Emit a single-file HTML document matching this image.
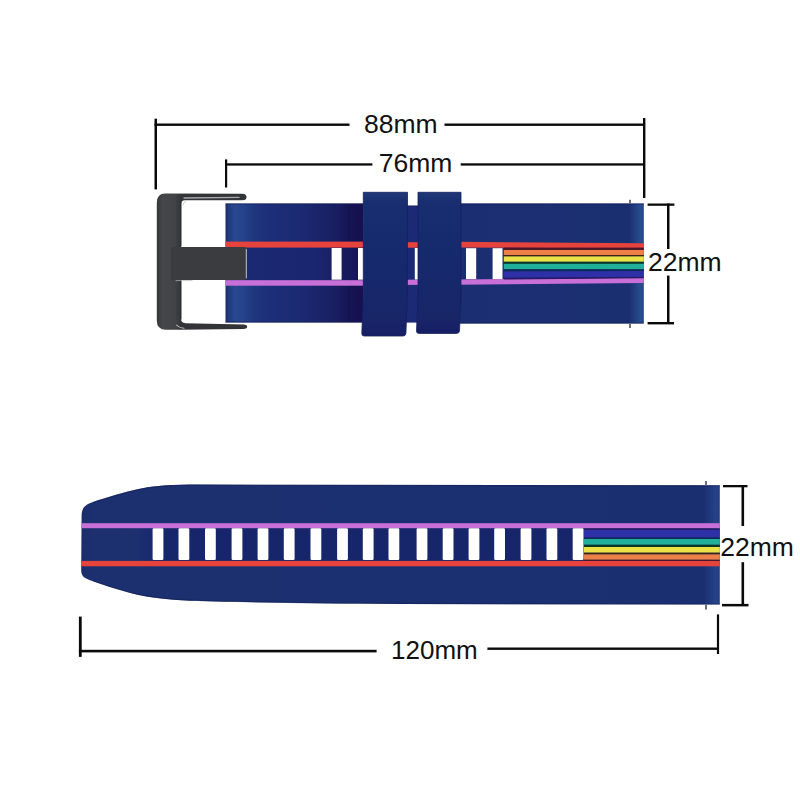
<!DOCTYPE html>
<html><head><meta charset="utf-8">
<style>
html,body{margin:0;padding:0;background:#fff;width:800px;height:800px;overflow:hidden}
svg{display:block}
text{font-family:"Liberation Sans",sans-serif;font-size:26.5px;fill:#111}
</style></head><body>
<svg width="800" height="800" viewBox="0 0 800 800">
<defs>
<linearGradient id="gL" gradientUnits="userSpaceOnUse" x1="225.5" x2="363" y1="0" y2="0">
  <stop offset="0" stop-color="#1a2a6c"/>
  <stop offset="0.025" stop-color="#223d80"/>
  <stop offset="0.07" stop-color="#28488f"/>
  <stop offset="0.13" stop-color="#25428a"/>
  <stop offset="0.21" stop-color="#1f367e"/>
  <stop offset="0.3" stop-color="#1c2f78"/>
  <stop offset="0.55" stop-color="#1b2a72"/>
  <stop offset="0.8" stop-color="#191e62"/>
  <stop offset="0.9" stop-color="#151453"/>
  <stop offset="1" stop-color="#170f50"/>
</linearGradient>
<linearGradient id="gIn" gradientUnits="userSpaceOnUse" x1="246" x2="363" y1="0" y2="0">
  <stop offset="0" stop-color="#1b2872"/>
  <stop offset="0.6" stop-color="#1b2670"/>
  <stop offset="1" stop-color="#171352"/>
</linearGradient>
<linearGradient id="gR" gradientUnits="userSpaceOnUse" x1="461" x2="643.8" y1="0" y2="0">
  <stop offset="0" stop-color="#1b2e72"/>
  <stop offset="0.92" stop-color="#1a2f70"/>
  <stop offset="0.985" stop-color="#2a4e92"/>
  <stop offset="1" stop-color="#24427f"/>
</linearGradient>
<linearGradient id="gB" gradientUnits="userSpaceOnUse" x1="80" x2="719.8" y1="0" y2="0">
  <stop offset="0" stop-color="#1a2c6c"/>
  <stop offset="0.02" stop-color="#1c3070"/>
  <stop offset="0.975" stop-color="#1a2f70"/>
  <stop offset="0.994" stop-color="#25438a"/>
  <stop offset="1" stop-color="#213c7a"/>
</linearGradient>
<linearGradient id="gBk" gradientUnits="userSpaceOnUse" x1="156.8" x2="181" y1="0" y2="0">
  <stop offset="0" stop-color="#35373a"/>
  <stop offset="0.25" stop-color="#45474a"/>
  <stop offset="0.75" stop-color="#414346"/>
  <stop offset="1" stop-color="#323437"/>
</linearGradient>
<linearGradient id="gLoop" x1="0" x2="0" y1="0" y2="1">
  <stop offset="0" stop-color="#203878"/>
  <stop offset="0.07" stop-color="#182e70"/>
  <stop offset="0.5" stop-color="#15296c"/>
  <stop offset="0.88" stop-color="#182668"/>
  <stop offset="1" stop-color="#171e64"/>
</linearGradient>
<linearGradient id="gInB" gradientUnits="userSpaceOnUse" x1="140" x2="584" y1="0" y2="0">
  <stop offset="0" stop-color="#1a2e70"/>
  <stop offset="0.05" stop-color="#17266a"/>
  <stop offset="1" stop-color="#17266a"/>
</linearGradient>
</defs>

<!-- ===== dimension lines ===== -->
<g fill="#0a0a0a">
  <rect x="154.5" y="118.7" width="2.5" height="70.7"/>
  <rect x="643" y="118" width="2.4" height="80"/>
  <rect x="154.5" y="123.5" width="195" height="2.4"/>
  <rect x="444.5" y="123.5" width="200" height="2.4"/>
  <rect x="225" y="159.4" width="2.2" height="28.1"/>
  <rect x="225" y="163.3" width="147.4" height="2.3"/>
  <rect x="460.7" y="163.3" width="184" height="2.3"/>
  <rect x="647.6" y="203.5" width="26.8" height="2.3"/>
  <rect x="667" y="203.5" width="2.5" height="45.5"/>
  <rect x="667" y="275.6" width="2.5" height="48"/>
  <rect x="647.6" y="322" width="26.4" height="2.4"/>
  <rect x="723" y="485" width="24.5" height="2.3"/>
  <rect x="741.5" y="485" width="2.6" height="41"/>
  <rect x="741.5" y="562.2" width="2.6" height="43"/>
  <rect x="722" y="603.9" width="26.5" height="2.5"/>
  <rect x="78.9" y="616.6" width="2.8" height="40.3"/>
  <rect x="716.9" y="614.4" width="2.2" height="39.6"/>
  <rect x="78.9" y="649.8" width="297.7" height="2.6"/>
  <rect x="487.4" y="647.5" width="231" height="2.4"/>
</g>
<text x="364" y="133.3">88mm</text>
<text x="378.8" y="171.8">76mm</text>
<text x="648" y="270.7">22mm</text>
<text x="720.3" y="556.2">22mm</text>
<text x="391" y="659.1" style="font-size:26px">120mm</text>

<!-- ===== top strap ===== -->
<rect x="225.5" y="203.5" width="138" height="119" fill="url(#gL)"/>
<rect x="240" y="247" width="123.5" height="33" fill="url(#gIn)"/>
<rect x="400" y="205.6" width="25" height="117" fill="#1c2a76"/>
<rect x="455" y="203.5" width="188.8" height="120" fill="url(#gR)"/>
<g fill="#141e52" opacity="0.55">
<rect x="225.5" y="203.4" width="138" height="1.2"/>
<rect x="225.5" y="321.4" width="138" height="1.2"/>
<rect x="455" y="203.4" width="188.8" height="1.2"/>
<rect x="455" y="322.4" width="188.8" height="1.2"/>
<rect x="407" y="205.6" width="12" height="1.1"/>
</g>
<g fill="#e6433c">
<rect x="225.5" y="241.6" width="138" height="6"/>
<rect x="400" y="242.2" width="25" height="5.5"/>
<path d="M455,241.8 L643.8,243.3 L643.8,248.6 L455,247.5 Z"/>
</g>
<g fill="#c86fd8">
<rect x="225.5" y="280.2" width="138" height="5.5"/>
<rect x="400" y="279.7" width="25" height="5.2"/>
<path d="M455,279.6 L643.8,277.8 L643.8,282.9 L455,284.8 Z"/>
</g>
<rect x="503.8" y="247.6" width="140" height="2.6" fill="#4a1628"/>
<rect x="503.8" y="254.9" width="140" height="1.7" fill="#3a2416"/>
<rect x="503.8" y="261.5" width="140" height="2.4" fill="#0a3624"/>
<rect x="503.8" y="269" width="140" height="2.5" fill="#0c2a58"/>
<path d="M503.8,277.5 L643.8,276.6 L643.8,278.2 L503.8,279.6 Z" fill="#281a68"/>
<rect x="503.8" y="250" width="140" height="5" fill="#ec8047"/>
<rect x="503.8" y="256.4" width="140" height="5.2" fill="#ebe346"/>
<rect x="503.8" y="263.8" width="140" height="5.3" fill="#20b09a"/>
<path d="M503.8,271.4 L643.8,271 L643.8,276.8 L503.8,277.6 Z" fill="#2e30a8"/>
<g fill="#fff">
  <rect x="331.6" y="248" width="10" height="31.7"/>
  <rect x="358" y="248" width="10" height="31.7"/>
  <rect x="414.8" y="248" width="10" height="31.5"/>
  <rect x="466" y="248.2" width="10.2" height="30.9"/>
  <rect x="492.6" y="248.2" width="9.9" height="30.9"/>
</g>
<!-- loops -->
<path d="M363.3,192.3 L407.5,192.3 L407.4,295 L405.9,333.5 Q405.6,336 403,336 L364.2,336 Q361.7,336 361.8,333.5 L363.3,295 Z" fill="url(#gLoop)" stroke="#14205e" stroke-width="0.8"/>
<path d="M418,192.3 L461,192.3 L461,295 L459.5,331 Q459.2,333.4 456.5,333.4 L419,333.4 Q416.3,333.4 416.5,331 L418,295 Z" fill="url(#gLoop)" stroke="#14205e" stroke-width="0.8"/>
<rect x="629" y="199.8" width="2" height="3.5" fill="#6a7080"/>
<rect x="629" y="323.5" width="2" height="4.5" fill="#6a7080"/>

<!-- ===== buckle ===== -->
<path d="M165,193.5 L242.5,193.8 Q246.5,194 246.5,197 Q246.5,200.3 242.5,200.3 L185,200.3 Q181,200.3 181,204.5 L181,246.9 L181,279.9 L181,318.5 Q181,323 185.5,323.2 L243.5,324.6 Q247.2,324.9 247.2,326.8 Q247.2,328.9 243.5,328.9 L180,329.8 L166,329.8 Q156.8,329.8 156.8,320.5 L156.8,203 Q156.8,193.5 165,193.5 Z" fill="url(#gBk)"/>
<path d="M171,246.9 L244,246.9 Q246.6,246.9 246.6,249.5 L246.6,277.3 Q246.6,279.9 244,279.9 L171,279.9 Z" fill="#3b3c3f"/>
<g fill="none" stroke-linecap="round">
  <path d="M184,198 L239,197.4" stroke="#c4c6c8" stroke-width="1.4" opacity="0.8"/>
  <path d="M246.3,249.3 L246.3,278" stroke="#d4d4da" stroke-width="0.9"/>
  <path d="M176,280.6 L192,280.6" stroke="#b8b8bc" stroke-width="0.9" opacity="0.8"/>
  <path d="M181,201.5 L181,246" stroke="#2a2b2d" stroke-width="1"/>
  <path d="M181,281 L181,319" stroke="#2a2b2d" stroke-width="1"/>
  <path d="M176.5,325 Q179,327.8 184,328.2" stroke="#c8cacc" stroke-width="1.1" opacity="0.85"/>
  <path d="M183,205 Q183.5,201.8 186,201.3" stroke="#b0b2b4" stroke-width="0.9" opacity="0.7"/>
</g>

<!-- ===== bottom strap ===== -->
<path d="M81.6,516 C81.6,508 85,504.5 93,502 C105,498 125,492 137.5,489.3 C150,486.5 165,484.8 190,484.6 L719.8,485.2 L719.8,604.6 L400,604 C300,603.5 220,601.8 190,600.8 C165,599.5 150,597.5 137.5,594.8 C125,592 105,585.5 93,581.3 C85,578.5 81.2,577 81.2,570 Z" fill="url(#gB)"/>
<path d="M93,502.6 C105,498.6 125,492.6 137.5,489.9 C150,487.1 165,485.4 190,485.2 L719.8,485.8" fill="none" stroke="#141e52" stroke-width="1.2" opacity="0.5"/>
<path d="M719.8,604 L400,603.4 C300,602.9 220,601.2 190,600.2 C165,598.9 150,596.9 137.5,594.2 C125,591.4 105,584.9 93,580.7" fill="none" stroke="#141e52" stroke-width="1.2" opacity="0.5"/>
<rect x="140" y="528" width="444.4" height="33" fill="url(#gInB)"/>
<rect x="81.4" y="523.2" width="638.4" height="5" fill="#c86fd8"/>
<rect x="81.2" y="560.9" width="638.6" height="5.4" fill="#e6433c"/>
<rect x="584" y="528.5" width="135.8" height="1.7" fill="#281a68"/>
<rect x="584" y="537.2" width="135.8" height="1.9" fill="#0c2a58"/>
<rect x="584" y="544.5" width="135.8" height="2.6" fill="#0a3624"/>
<rect x="584" y="552.4" width="135.8" height="2.1" fill="#3a2416"/>
<rect x="584" y="559.5" width="135.8" height="1.4" fill="#4a1628"/>
<rect x="584" y="530" width="135.8" height="7.3" fill="#2e30a8"/>
<rect x="584" y="539" width="135.8" height="5.6" fill="#20b09a"/>
<rect x="584" y="547" width="135.8" height="5.5" fill="#ebe346"/>
<rect x="584" y="554.4" width="135.8" height="5.2" fill="#ec8047"/>
<g fill="#fff"><rect x="152.60" y="528.3" width="10.8" height="31.7" rx="1.2"/><rect x="178.50" y="528.3" width="10.8" height="31.7" rx="1.2"/><rect x="205.00" y="528.3" width="10.8" height="31.7" rx="1.2"/><rect x="231.60" y="528.3" width="10.8" height="31.7" rx="1.2"/><rect x="257.60" y="528.3" width="10.8" height="31.7" rx="1.2"/><rect x="283.80" y="528.3" width="10.8" height="31.7" rx="1.2"/><rect x="310.50" y="528.3" width="10.8" height="31.7" rx="1.2"/><rect x="337.10" y="528.3" width="10.8" height="31.7" rx="1.2"/><rect x="362.80" y="528.3" width="10.8" height="31.7" rx="1.2"/><rect x="388.50" y="528.3" width="10.8" height="31.7" rx="1.2"/><rect x="416.60" y="528.3" width="10.8" height="31.7" rx="1.2"/><rect x="442.70" y="528.3" width="10.8" height="31.7" rx="1.2"/><rect x="468.60" y="528.3" width="10.8" height="31.7" rx="1.2"/><rect x="494.20" y="528.3" width="10.8" height="31.7" rx="1.2"/><rect x="520.60" y="528.3" width="10.8" height="31.7" rx="1.2"/><rect x="546.50" y="528.3" width="10.8" height="31.7" rx="1.2"/><rect x="572.70" y="528.3" width="10.8" height="31.7" rx="1.2"/></g>
<rect x="705" y="481" width="2" height="4.5" fill="#6a7080"/>
<rect x="705" y="604.6" width="2" height="5" fill="#6a7080"/>
</svg>
</body></html>
